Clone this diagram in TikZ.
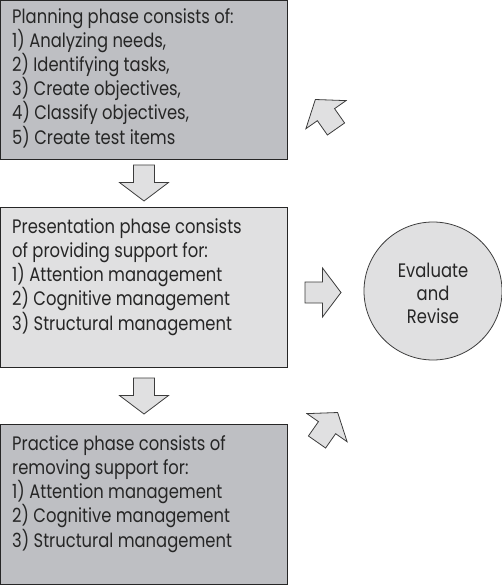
\documentclass[tikz,border=0pt]{standalone}
\usepackage{fontspec}
\setmainfont[FakeStretch=0.84]{Poppins}
\definecolor{darkbox}{HTML}{BEBFC3}
\definecolor{lightbox}{HTML}{E0E0E1}
\definecolor{edge}{HTML}{262626}
\newcommand{\firstline}{\rule{0pt}{16pt}}
\tikzset{
  boxshape/.style={draw=edge, line width=1pt},
  boxtext/.style={anchor=north west, inner sep=0pt, align=left, font=\fontsize{19.5}{24.2}\selectfont, text=black!85},
  circtext/.style={anchor=north, inner sep=0pt, align=center, font=\fontsize{19.5}{23}\selectfont, text=black!85},
  blkarrow/.pic={\draw[draw=edge!90, line width=0.8pt, fill=lightbox, line join=miter]
     (0,-10.5) -- (17.5,-10.5) -- (17.5,-24.5) -- (36,0) -- (17.5,24.5) -- (17.5,10.5) -- (0,10.5) -- cycle;}
}
\begin{document}
\begin{tikzpicture}[x=1pt,y=-1pt]
\useasboundingbox (0,0) rectangle (502,585);
% boxes
\path[boxshape, fill=darkbox] (0.6,0.6) rectangle (287,160);
\path[boxshape, fill=lightbox] (0.6,207) rectangle (287,367);
\path[boxshape, fill=darkbox] (0.6,424) rectangle (287,584.4);
\node[boxtext] (plan) at (12,23-16) {\firstline Planning phase consists of:\\1) Analyzing needs,\\2) Identifying tasks,\\3) Create objectives,\\4) Classify objectives,\\5) Create test items};
\node[boxtext] (pres) at (12,233-16) {\firstline Presentation phase consists\\of providing support for:\\1) Attention management\\2) Cognitive management\\3) Structural management};
\node[boxtext] (prac) at (12,450-16) {\firstline Practice phase consists of\\removing support for:\\1) Attention management\\2) Cognitive management\\3) Structural management};
% circle
\node[circle, draw=edge!90, line width=0.8pt, fill=lightbox, minimum size=138pt, inner sep=0pt] (eval) at (433,291) {};
\node[circtext] (evaltext) at (433,277-16) {\firstline Evaluate\\and\\Revise};
% block arrows
\pic at (144,165) [rotate=-90] {blkarrow};
\pic at (144,378) [rotate=-90] {blkarrow};
\pic at (305,292.5) {blkarrow};
\pic at (336,129) [rotate=125] {blkarrow};
\pic at (317,442) [rotate=55] {blkarrow};
\end{tikzpicture}
\end{document}
